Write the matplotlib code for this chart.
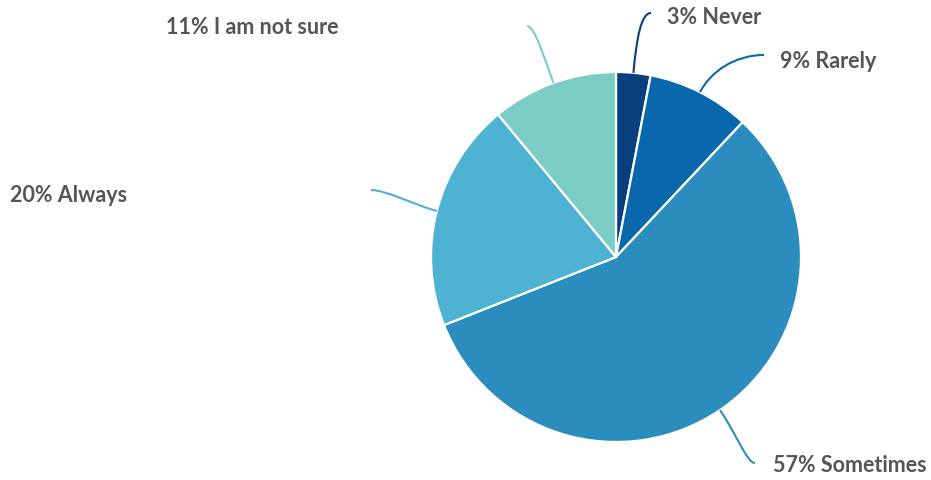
import numpy as np
import matplotlib
matplotlib.use("Agg")
import matplotlib.pyplot as plt
from matplotlib.path import Path
from matplotlib.patches import PathPatch

# Survey answers, in clockwise order from 12 o'clock
categories = ["Never", "Rarely", "Sometimes", "Always", "I am not sure"]
shares = [3, 9, 57, 20, 11]
colors = ["#0a3f7f", "#0968ac", "#2b8cbe", "#4eb3d3", "#7bccc4"]

# Label anchors (left edge, vertical centre) and leader-line ends,
# in pixels measured from the top-left corner
label_pos = [(667, 17), (780, 61), (773, 466), (10, 195), (166, 27)]
leader_end = [(651, 13), (764, 55), (755, 463), (371, 190), (527, 26)]
# cubic handle lengths: along the radius, and back from the end horizontally
handles = [(35, 10), (22, 30), (30, 8), (20, 15), (25, 8)]

W, H = 931, 480
cx, cy, R = 616, H - 257, 185


def up(p):
    return np.array([p[0], H - p[1]], dtype=float)


plt.rcParams["font.family"] = ["Lato", "DejaVu Sans"]

fig = plt.figure(figsize=(W / 100, H / 100), dpi=100)
ax = fig.add_axes([0, 0, 1, 1])

ax.pie(shares, colors=colors, startangle=90, counterclock=False,
       center=(cx, cy), radius=R, frame=True,
       wedgeprops=dict(edgecolor="white", linewidth=1.6))
ax.set_xlim(0, W)
ax.set_ylim(0, H)
ax.set_aspect("equal")
ax.axis("off")

total = sum(shares)
cum = 0
for i, (name, v) in enumerate(zip(categories, shares)):
    mid = 90 - (cum + v / 2) / total * 360
    cum += v
    th = np.deg2rad(mid)
    d = np.array([np.cos(th), np.sin(th)])
    p0 = np.array([cx, cy]) + R * d
    p3 = up(leader_end[i])
    a, b = handles[i]
    side = 1 if p3[0] > cx else -1
    p1 = p0 + a * d
    p2 = p3 - np.array([side * b, 0])
    path = Path([p0, p1, p2, p3],
                [Path.MOVETO, Path.CURVE4, Path.CURVE4, Path.CURVE4])
    ax.add_patch(PathPatch(path, facecolor="none", edgecolor=colors[i], lw=1.5))
    lx, ly = up(label_pos[i])
    ax.text(lx, ly, f"{v}% {name}", ha="left", va="center", fontsize=15.5,
            fontweight="bold", color="#555555")

fig.savefig("out.png", dpi=100)
